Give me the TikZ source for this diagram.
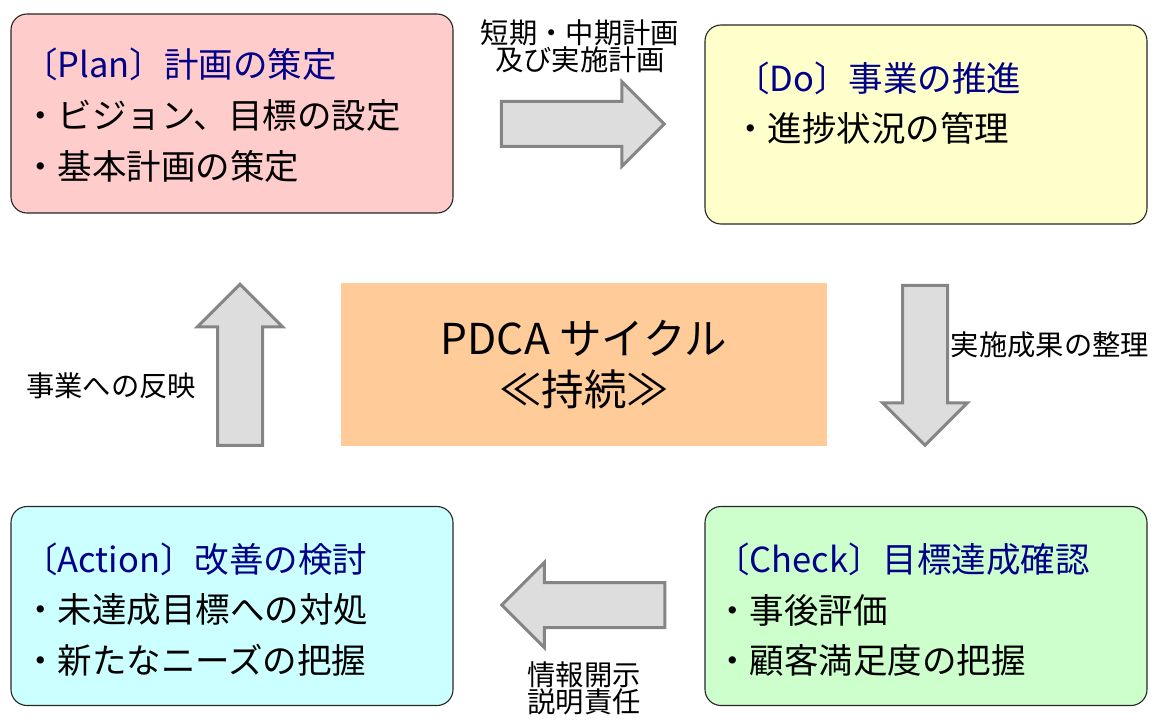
\documentclass[tikz,border=0pt]{standalone}
\usepackage{fontspec}
\setmainfont{Noto Sans CJK JP}
\usetikzlibrary{shapes.arrows}

\definecolor{planpink}{HTML}{FFCCCC}
\definecolor{doyellow}{HTML}{FFFFCC}
\definecolor{checkgreen}{HTML}{CCFFCC}
\definecolor{actioncyan}{HTML}{CCFFFF}
\definecolor{cycleorange}{HTML}{FFCC99}
\definecolor{titleblue}{HTML}{000088}
\definecolor{arrowfill}{HTML}{DDDDDD}
\definecolor{arrowline}{HTML}{858585}

\begin{document}
\begin{tikzpicture}[x=1pt,y=-1pt,
    phase box/.style={draw=black!85,line width=1.1pt,rounded corners=16pt,
                      minimum width=442pt,minimum height=199pt,inner sep=0pt},
    phase title/.style={anchor=west,inner sep=0pt,text=titleblue,
                        font=\fontsize{34.5}{40}\selectfont},
    phase item/.style={anchor=west,inner sep=0pt,
                       font=\fontsize{34.5}{40}\selectfont},
    flow arrow/.style={single arrow,draw=arrowline,fill=arrowfill,line width=3pt,
                       line join=miter,inner xsep=0pt,inner ysep=21pt,
                       single arrow head extend=20pt,minimum height=160pt},
    flow label/.style={align=center,inner sep=0pt,
                       font=\fontsize{28.3}{27}\selectfont}]

    \useasboundingbox (0,0) rectangle (1155,722);

    % Define phase boxes
    \node[phase box,fill=planpink]   (plan)   at (232,113.5) {};
    \node[phase box,fill=doyellow]   (do)     at (926,124.5) {};
    \node[phase box,fill=actioncyan] (action) at (232,606) {};
    \node[phase box,fill=checkgreen] (check)  at (926,606) {};

    % Cycle in the middle
    \node[fill=cycleorange,minimum width=486pt,minimum height=163pt,inner sep=0pt,
          align=center,font=\fontsize{42.5}{51}\selectfont] (cycle) at (584,364.5)
          {PDCA サイクル\\≪持続≫};

    % Box texts
    \node[phase title] (plan title) at (23,64)  {〔Plan〕計画の策定};
    \node[phase item]  (plan one)   at (23,115) {・ビジョン、目標の設定};
    \node[phase item]  (plan two)   at (23,166) {・基本計画の策定};

    \node[phase title] (do title)   at (735,78)  {〔Do〕事業の推進};
    \node[phase item]  (do one)     at (733,128) {・進捗状況の管理};

    \node[phase title] (check title) at (715,559) {〔Check〕目標達成確認};
    \node[phase item]  (check one)   at (715,610) {・事後評価};
    \node[phase item]  (check two)   at (715,660) {・顧客満足度の把握};

    \node[phase title] (action title) at (23,559) {〔Action〕改善の検討};
    \node[phase item]  (action one)   at (23,610) {・未達成目標への対処};
    \node[phase item]  (action two)   at (23,660) {・新たなニーズの把握};

    % Flow arrows (node centre sits back from the middle of the arrow)
    \node[flow arrow,minimum height=163pt]            (plan to do)      at (571.5,124) {};
    \node[flow arrow,rotate=-90]                      (do to check)     at (925,354) {};
    \node[flow arrow,rotate=180,minimum height=163pt] (check to action) at (594.5,605) {};
    \node[flow arrow,rotate=90,minimum height=161pt]  (action to plan)  at (240,376) {};

    % Flow labels
    \node[flow label] (plan do label)      at (580,46)   {短期・中期計画\\及び実施計画};
    \node[flow label] (do check label)     at (1050,345) {実施成果の整理};
    \node[flow label] (check action label) at (584,688)  {情報開示\\説明責任};
    \node[flow label] (action plan label)  at (111,386)  {事業への反映};

\end{tikzpicture}
\end{document}
